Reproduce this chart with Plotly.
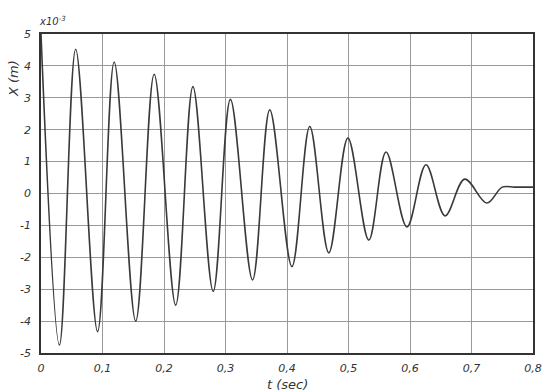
import plotly.graph_objects as go

# Extremum times (s) and displacement values (x10^-3 m)
t_points = [0.0, 0.030, 0.0564, 0.092, 0.119, 0.154, 0.184, 0.219, 0.247, 0.280,
            0.308, 0.344, 0.372, 0.408, 0.437, 0.468, 0.499, 0.533, 0.561, 0.595,
            0.626, 0.657, 0.689, 0.725, 0.750, 0.770, 0.80]
x_points = [5.0, -4.75, 4.52, -4.33, 4.12, -4.0, 3.74, -3.5, 3.35, -3.07,
            2.95, -2.71, 2.62, -2.29, 2.10, -1.86, 1.74, -1.46, 1.30, -1.05,
            0.90, -0.70, 0.45, -0.30, 0.20, 0.20, 0.20]

x_tick_vals = [0, 0.1, 0.2, 0.3, 0.4, 0.5, 0.6, 0.7, 0.8]
x_tick_text = ["0", "0,1", "0,2", "0,3", "0,4", "0,5", "0,6", "0,7", "0,8"]
y_tick_vals = [5, 4, 3, 2, 1, 0, -1, -2, -3, -4, -5]
y_tick_text = ["5", "4", "3", "2", "1", "0", "-1", "-2", "-3", "-4", "-5"]

fig = go.Figure()
fig.add_trace(go.Scatter(
    x=t_points, y=x_points, mode="lines",
    line=dict(color="#3a3a3a", width=1.6, shape="spline", smoothing=1.0),
    showlegend=False, hoverinfo="skip"))

tickfont = dict(family="DejaVu Sans", size=11, color="#333333", style="italic")

fig.update_layout(
    width=553, height=392,
    margin=dict(l=41, r=20, t=34, b=39),
    paper_bgcolor="white", plot_bgcolor="white",
    xaxis=dict(range=[0, 0.8], tickvals=x_tick_vals, ticktext=x_tick_text,
               showgrid=True, gridcolor="#999999", gridwidth=1,
               showline=True, linecolor="#333333", linewidth=1.5, mirror=True,
               zeroline=False, ticks="", tickfont=tickfont, ticklabelstandoff=4),
    yaxis=dict(range=[-5, 5], tickvals=y_tick_vals, ticktext=y_tick_text,
               showgrid=True, gridcolor="#999999", gridwidth=1,
               showline=True, linecolor="#333333", linewidth=1.5, mirror=True,
               zeroline=False, ticks="", tickfont=tickfont, ticklabelstandoff=6),
    annotations=[
        dict(text="X (m)", xref="paper", yref="paper", x=-0.056, y=0.86,
             xanchor="center", yanchor="middle",
             textangle=-90, showarrow=False,
             font=dict(family="DejaVu Sans", size=13, color="#333333", style="italic")),
        dict(text="x10<sup>-3</sup>", xref="paper", yref="paper", x=-0.008, y=1.015,
             xanchor="left", yanchor="bottom", showarrow=False,
             font=dict(family="DejaVu Sans", size=10, color="#333333", style="italic")),
        dict(text="t (sec)", xref="paper", yref="paper", x=0.5, y=-0.07,
             xanchor="center", yanchor="top", showarrow=False,
             font=dict(family="DejaVu Sans", size=13, color="#333333", style="italic")),
    ],
)

fig.write_html("out.html")
